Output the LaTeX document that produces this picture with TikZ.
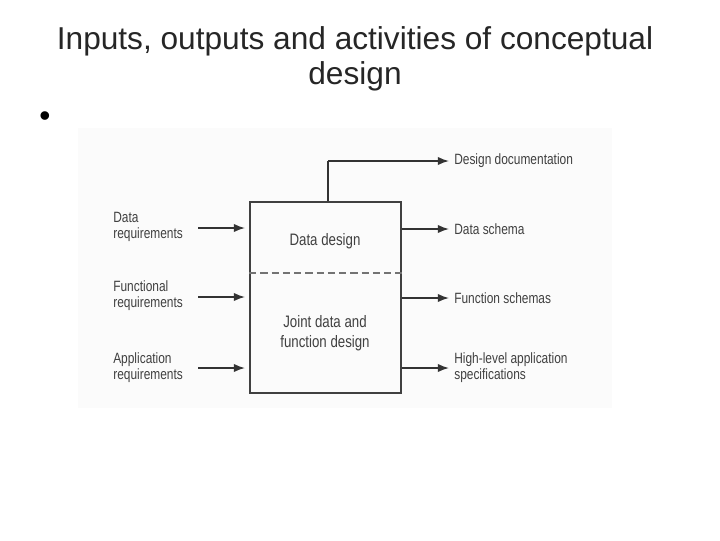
\documentclass[tikz,border=0pt]{standalone}
\usepackage{fontspec}
\setmainfont{Liberation Sans}
\newfontfamily\narrowfont[FakeStretch=0.8]{Liberation Sans}
\usetikzlibrary{arrows.meta}

\tikzset{
  flow/.style={line width=1.1pt, -{Latex[length=8pt,width=6pt]}, black!80},
  lbl/.style={font=\narrowfont\fontsize{10.6}{11.5}\selectfont, text=black!75, align=left, inner sep=0pt},
  boxtext/.style={font=\narrowfont\fontsize{11.8}{14}\selectfont, text=black!75, align=center}
}

\begin{document}
\begin{tikzpicture}[x=0.025cm, y=-0.025cm]
    \useasboundingbox (0,0) rectangle (720,540);

    % Titre
    \node[align=center, font=\fontsize{22.5}{25}\selectfont, text=black!85] (title) at (355,59)
        {Inputs, outputs and activities of conceptual\\design};
    \node[font=\fontsize{22.5}{25}\selectfont] (bullet) at (45,119) {\textbullet};

    % Fond de la figure
    \fill[black!1.5] (78,128) rectangle (612,408);

    % Boite centrale
    \node[draw=black!75, line width=1.1pt, minimum width=151*0.025cm, minimum height=191*0.025cm,
          inner sep=0pt] (box) at (325.5,297.5) {};
    \draw[black!55, line width=1.1pt, dash pattern=on 5pt off 3pt] (box.west |- 0,273) -- (box.east |- 0,273);
    \node[boxtext] (dd) at (325,241) {Data design};
    \node[boxtext] (jd) at (325,333) {Joint data and\\function design};

    % Entrees
    \node[lbl, anchor=west] (in1) at (113,227) {Data\\requirements};
    \node[lbl, anchor=west] (in2) at (113,296) {Functional\\requirements};
    \node[lbl, anchor=west] (in3) at (113,368) {Application\\requirements};
    \coordinate (a1) at (198,228);
    \coordinate (a2) at (198,297);
    \coordinate (a3) at (198,368);
    \draw[flow, shorten >=3pt] (a1) -- (box.west |- a1);
    \draw[flow, shorten >=3pt] (a2) -- (box.west |- a2);
    \draw[flow, shorten >=3pt] (a3) -- (box.west |- a3);

    % Sorties
    \coordinate (b0) at (449,161);
    \coordinate (b1) at (449,229);
    \coordinate (b2) at (449,298);
    \coordinate (b3) at (449,368);
    \coordinate (up) at (328,161);
    \draw[line width=1.1pt, black!80] (box.north -| up) -- (up);
    \draw[flow] (up) -- (b0);
    \draw[flow] (box.east |- b1) -- (b1);
    \draw[flow] (box.east |- b2) -- (b2);
    \draw[flow] (box.east |- b3) -- (b3);
    \node[lbl, anchor=west] (out0) at (454,161) {Design documentation};
    \node[lbl, anchor=west] (out1) at (454,229) {Data schema};
    \node[lbl, anchor=west] (out2) at (454,298) {Function schemas};
    \node[lbl, anchor=west] (out3) at (454,368) {High-level application\\specifications};
\end{tikzpicture}
\end{document}
